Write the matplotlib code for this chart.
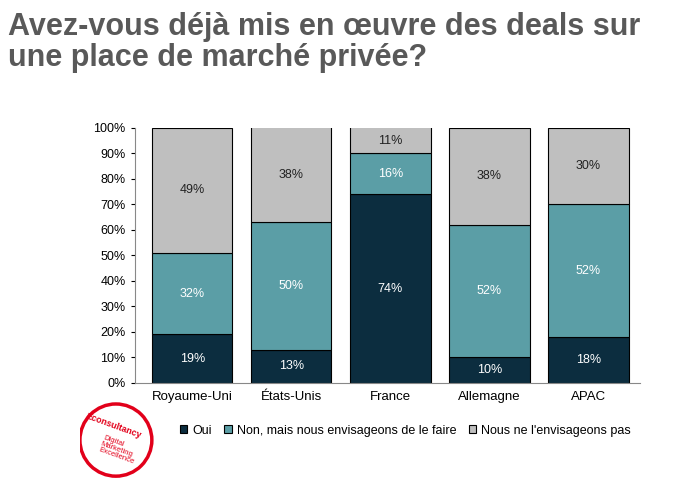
import numpy as np
import matplotlib.pyplot as plt
from matplotlib.patches import Circle

regions = ["Royaume-Uni", "États-Unis", "France", "Allemagne", "APAC"]
oui = [19, 13, 74, 10, 18]
non_mais = [32, 50, 16, 52, 52]
non_pas = [49, 38, 11, 38, 30]
labels = ["Oui", "Non, mais nous envisageons de le faire", "Nous ne l'envisageons pas"]
colors = ["#0c2d3f", "#5b9ea6", "#bfbfbf"]
text_colors = ["white", "white", "#222222"]

plt.rcParams['font.family'] = ['Liberation Sans', 'DejaVu Sans']
fig = plt.figure(figsize=(6.95, 4.86), dpi=100)
fig.text(0.012, 0.975, "Avez-vous déjà mis en œuvre des deals sur\nune place de marché privée?",
         fontsize=22, fontweight='bold', color='#595959', va='top', linespacing=1.05)

ax = fig.add_axes([0.194, 0.212, 0.727, 0.525])
x = np.arange(len(regions))
bottom = np.zeros(len(regions))
for vals, c, tc, lab in zip([oui, non_mais, non_pas], colors, text_colors, labels):
    v = np.array(vals, dtype=float)
    ax.bar(x, v, 0.81, bottom=bottom, color=c, edgecolor='black', linewidth=0.8, label=lab)
    for xi, b, h in zip(x, bottom, v):
        yc = (b + min(b + h, 100)) / 2
        ax.text(xi, yc, f"{int(h)}%", ha='center', va='center', color=tc, fontsize=9)
    bottom += v

ax.set_xlim(-0.58, 4.52)
ax.set_ylim(0, 100)
ax.set_yticks(range(0, 101, 10))
ax.set_yticklabels([f"{t}%" for t in range(0, 101, 10)], fontsize=9)
ax.set_xticks(x)
ax.set_xticklabels(regions, fontsize=9.5)
ax.tick_params(axis='x', length=0, pad=6)
ax.tick_params(axis='y', length=3)
for s in ['top', 'right']:
    ax.spines[s].set_visible(False)
ax.spines['left'].set_color('#888888')
ax.spines['bottom'].set_color('#888888')

ax.legend(loc='upper center', bbox_to_anchor=(0.535, -0.12), ncol=3, frameon=False,
          fontsize=9, handlelength=0.6, handleheight=0.6, columnspacing=1.0, handletextpad=0.4)

# logo
logo = fig.add_axes([0.115, 0.012, 0.115, 0.165])
logo.set_xlim(0, 1); logo.set_ylim(0, 1); logo.axis('off')
logo.add_patch(Circle((0.45, 0.5), 0.45, fill=False, edgecolor='#e2001a', linewidth=2.5))
logo.text(0.05, 0.68, "Econsultancy", color='#e2001a', fontsize=6.5, fontweight='bold', rotation=-20, va='center')
logo.text(0.22, 0.38, "Digital\nMarketing\nExcellence", color='#e2001a', fontsize=5.5, rotation=-20, va='center', linespacing=0.9)

fig.savefig("out.png", dpi=100)
